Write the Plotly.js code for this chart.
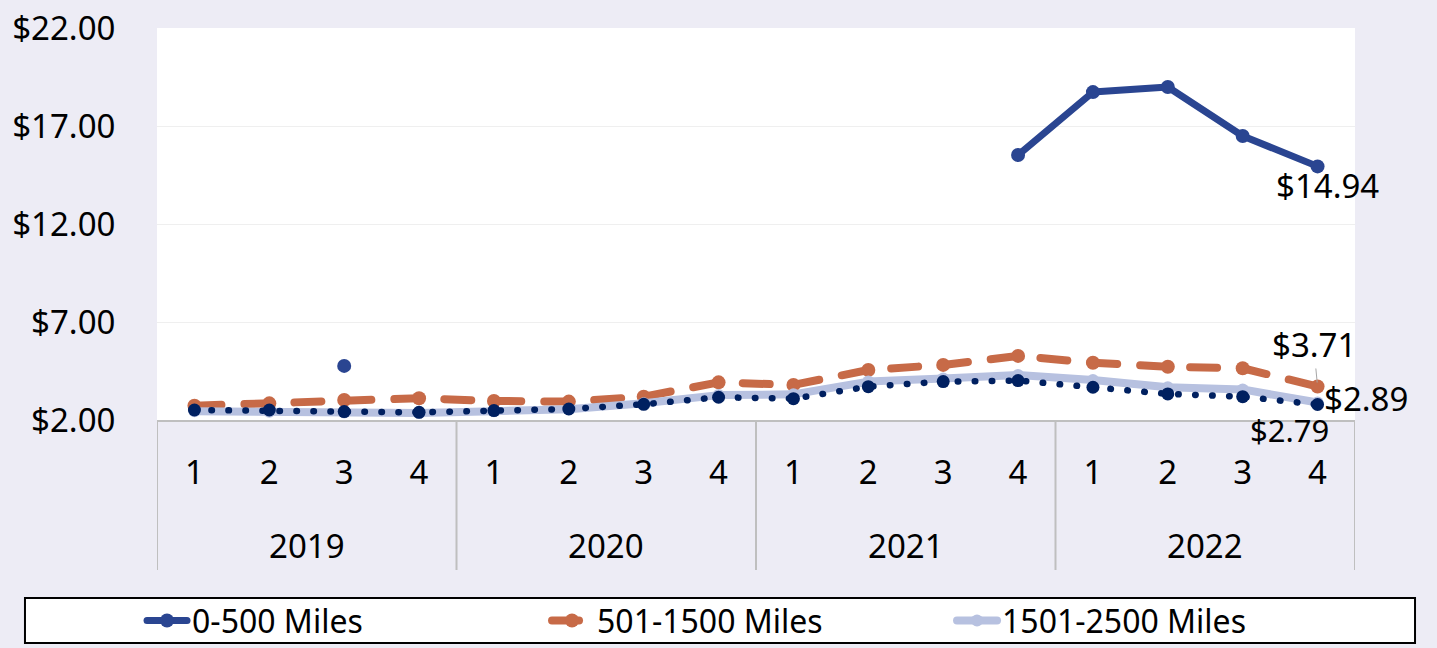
<!DOCTYPE html>
<html>
<head>
<meta charset="utf-8">
<script src="https://cdn.plot.ly/plotly-3.0.1.min.js"></script>
<style>
  html, body { margin: 0; padding: 0; background: #EDECF5; }
  #chart { width: 1437px; height: 648px; }
  path.js-line { stroke-linecap: round !important; stroke-linejoin: round !important; }
</style>
</head>
<body>
<div id="chart"></div>
<script>
// ---- data ----
const years = ["2019", "2020", "2021", "2022"];
const quarters = ["1", "2", "3", "4"];
const categories = years.flatMap(y => quarters.map(q => y + " Q" + q));
const quarterLabels = categories.map((c, i) => quarters[i % quarters.length]);

const miles0to500 = [null, null, 4.76, null, null, null, null, null, null, null, null, 15.52, 18.73, 18.99, 16.49, 14.94];
const miles501to1500 = [2.73, 2.85, 3.02, 3.11, 2.97, 2.94, 3.19, 3.92, 3.79, 4.55, 4.81, 5.27, 4.92, 4.72, 4.64, 3.71];
const miles1501to2500 = [2.45, 2.42, 2.38, 2.36, 2.45, 2.55, 2.85, 3.27, 3.31, 3.96, 4.12, 4.30, 4.04, 3.67, 3.56, 2.89];
const miles2500plus = [2.51, 2.51, 2.43, 2.39, 2.48, 2.56, 2.80, 3.16, 3.09, 3.70, 3.96, 4.01, 3.67, 3.33, 3.19, 2.79];

const seriesNames = ["0-500 Miles", "501-1500 Miles", "1501-2500 Miles", "2500+ Miles"];
const yTicks = [2, 7, 12, 17, 22];

// ---- styling ----
const FONT = "Noto Sans, Open Sans, sans-serif";
const C_BLUE = "#2A4591", C_ORANGE = "#C76A47", C_LIGHT = "#B7C1E0", C_NAVY = "#002060";

const traces = [
  { x: categories, y: miles0to500, name: seriesNames[0], type: "scatter", mode: "lines+markers",
    line: { color: C_BLUE, width: 7 }, marker: { color: C_BLUE, size: 14 }, connectgaps: false },
  { x: categories, y: miles501to1500, name: seriesNames[1], type: "scatter", mode: "lines+markers",
    line: { color: C_ORANGE, width: 8, dash: "27px,23px" }, marker: { color: C_ORANGE, size: 14 } },
  { x: categories, y: miles1501to2500, name: seriesNames[2], type: "scatter", mode: "lines+markers",
    line: { color: C_LIGHT, width: 8 }, marker: { color: C_LIGHT, size: 12 } },
  { x: categories, y: miles2500plus, name: seriesNames[3], type: "scatter", mode: "lines+markers",
    line: { color: C_NAVY, width: 6.5, dash: "0.5px,16.5px" }, marker: { color: C_NAVY, size: 13 },
    showlegend: false }
];

const last = categories.length - 1;
const fmt = v => "$" + v.toFixed(2);
const labelFont = { family: FONT, size: 33, color: "#000" };
const annotations = [
  { x: categories[last], y: miles0to500[last], text: fmt(miles0to500[last]), showarrow: false,
    xshift: 10, yshift: -19, font: labelFont },
  { x: categories[last], y: miles501to1500[last], text: fmt(miles501to1500[last]), showarrow: true,
    ax: -4, ay: -42, arrowhead: 0, arrowwidth: 1, arrowcolor: "#A6A6A6", standoff: 4, font: labelFont },
  { x: categories[last], y: miles1501to2500[last], text: fmt(miles1501to2500[last]), showarrow: false,
    xanchor: "left", xshift: 4, yshift: 4, font: labelFont },
  { x: categories[last], y: miles2500plus[last], text: fmt(miles2500plus[last]), showarrow: false,
    xshift: -28, yshift: -25, font: { family: FONT, size: 31, color: "#000" } }
];
years.forEach((yr, i) => {
  annotations.push({ x: i * quarters.length + (quarters.length - 1) / 2, xref: "x", y: -0.319, yref: "paper",
    text: yr, showarrow: false, yanchor: "middle", font: labelFont });
});

const shapes = [];
for (let i = 0; i <= years.length; i++) {
  shapes.push({ type: "line", xref: "x", yref: "paper", x0: i * quarters.length - 0.5, x1: i * quarters.length - 0.5,
    y0: 0, y1: -0.3827, line: { color: "#BFBFBF", width: 2 } });
}
// legend box
shapes.push({ type: "rect", xref: "paper", yref: "paper", x0: -0.1102, x1: 1.0501, y0: -0.5689, y1: -0.4541,
  line: { color: "#000", width: 2 }, fillcolor: "#FFFFFF", layer: "below" });

const layout = {
  width: 1437, height: 648,
  margin: { l: 157, r: 82, t: 28, b: 228, pad: 0, autoexpand: false },
  paper_bgcolor: "#EDECF5",
  plot_bgcolor: "#FFFFFF",
  font: { family: FONT, size: 33, color: "#000" },
  showlegend: true,
  legend: {
    orientation: "h", x: -0.0125, xanchor: "left", y: -0.512, yanchor: "middle",
    bgcolor: "rgba(0,0,0,0)", borderwidth: 0,
    font: { family: FONT, size: 32, color: "#000" },
    entrywidth: 350, entrywidthmode: "pixels", itemwidth: 40
  },
  xaxis: {
    type: "category", range: [-0.5, last + 0.5],
    tickmode: "array", tickvals: categories, ticktext: quarterLabels,
    ticks: "outside", ticklen: 22, tickcolor: "rgba(0,0,0,0)",
    showline: true, linecolor: "#BFBFBF", linewidth: 2,
    showgrid: false, zeroline: false, fixedrange: true,
    tickfont: { family: FONT, size: 33, color: "#000" }
  },
  yaxis: {
    range: [2, 22], tickmode: "array", tickvals: yTicks, ticktext: yTicks.map(fmt),
    ticks: "outside", ticklen: 34, tickcolor: "rgba(0,0,0,0)",
    showgrid: true, gridcolor: "#EFEFEF", gridwidth: 1,
    showline: false, zeroline: false, fixedrange: true,
    tickfont: { family: FONT, size: 33, color: "#000" }
  },
  annotations: annotations,
  shapes: shapes
};

Plotly.newPlot("chart", traces, layout, { displayModeBar: false, staticPlot: true });
</script>
</body>
</html>
